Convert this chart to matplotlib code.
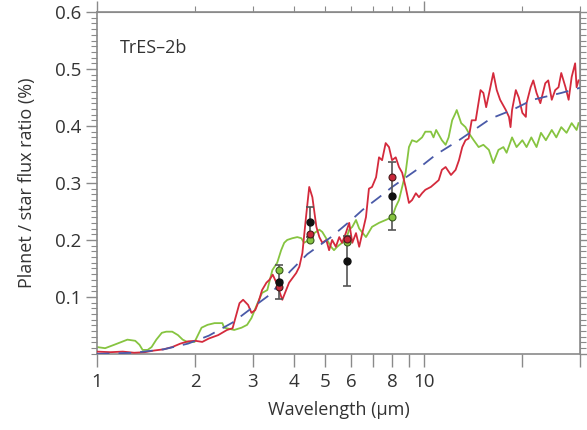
import matplotlib
matplotlib.use("Agg")
import matplotlib.pyplot as plt
from matplotlib.ticker import FixedLocator, NullFormatter, MultipleLocator
import numpy as np

plt.rcParams['font.family'] = ['Open Sans', 'DejaVu Sans']

# modele rouge
red_wl = [1.0, 1.1, 1.2, 1.3, 1.4, 1.5, 1.6, 1.7, 1.8, 1.9, 2.0, 2.1, 2.2, 2.35, 2.5, 2.6,
          2.73, 2.8, 2.9, 2.97, 3.05, 3.12, 3.2, 3.3, 3.37, 3.45, 3.54, 3.69, 3.87, 4.07,
          4.16, 4.25, 4.36, 4.46, 4.56, 4.69, 4.79, 4.89, 5.03, 5.13, 5.24, 5.38, 5.51,
          5.62, 5.77, 5.91, 6.04, 6.2, 6.34, 6.48, 6.65, 6.79, 6.94, 7.14, 7.29, 7.45,
          7.64, 7.82, 7.99, 8.2, 8.39, 8.58, 8.79, 9.0, 9.2, 9.45, 9.66, 9.87, 10.1, 10.5,
          10.85, 11.1, 11.35, 11.65, 12.1, 12.5, 12.8, 13.1, 13.4, 13.7, 14.0, 14.4, 14.9,
          15.2, 15.5, 15.9, 16.3, 16.7, 17.1, 17.8, 18.2, 18.4, 18.6, 19.1, 19.5, 20.0,
          20.5, 20.6, 21.2, 21.6, 22.1, 22.7, 23.5, 24.0, 24.6, 25.2, 25.8, 26.3, 27.1,
          27.7, 28.3, 29.0, 29.3, 29.7]
red_fx = [0.004, 0.003, 0.004, 0.002, 0.003, 0.006, 0.008, 0.012, 0.018, 0.022, 0.023,
          0.021, 0.027, 0.033, 0.042, 0.045, 0.089, 0.095, 0.086, 0.072, 0.077, 0.091,
          0.112, 0.125, 0.13, 0.139, 0.125, 0.095, 0.125, 0.142, 0.153, 0.177, 0.24,
          0.293, 0.275, 0.223, 0.205, 0.195, 0.2, 0.182, 0.2, 0.188, 0.205, 0.195, 0.212,
          0.23, 0.195, 0.212, 0.188, 0.212, 0.24, 0.29, 0.293, 0.31, 0.345, 0.34, 0.37,
          0.363, 0.34, 0.345, 0.328, 0.318, 0.293, 0.265, 0.27, 0.282, 0.275, 0.282,
          0.288, 0.293, 0.3, 0.305, 0.323, 0.328, 0.314, 0.323, 0.34, 0.363, 0.375, 0.378,
          0.41, 0.41, 0.463, 0.458, 0.433, 0.463, 0.493, 0.463, 0.446, 0.428, 0.416,
          0.398, 0.428, 0.463, 0.45, 0.423, 0.416, 0.44, 0.468, 0.48, 0.458, 0.44, 0.475,
          0.48, 0.446, 0.463, 0.468, 0.493, 0.468, 0.446, 0.486, 0.51, 0.468, 0.48]

# modele vert
green_wl = [1.0, 1.06, 1.13, 1.19, 1.24, 1.31, 1.35, 1.38, 1.43, 1.47, 1.52, 1.58, 1.63,
            1.70, 1.77, 1.83, 1.89, 1.99, 2.09, 2.18, 2.29, 2.42, 2.45, 2.63, 2.77, 2.88,
            2.97, 3.1, 3.2, 3.32, 3.44, 3.56, 3.66, 3.74, 3.82, 3.96, 4.1, 4.22, 4.3, 4.46,
            4.62, 4.79, 4.89, 5.06, 5.2, 5.31, 5.43, 5.62, 5.77, 5.91, 6.04, 6.2, 6.34,
            6.65, 6.94, 7.29, 7.64, 7.99, 8.2, 8.39, 8.58, 8.79, 9.0, 9.2, 9.5, 9.87, 10.1,
            10.5, 10.7, 10.9, 11.35, 11.65, 11.9, 12.2, 12.5, 12.6, 13.0, 13.4, 13.7, 14.2,
            14.7, 15.2, 15.8, 16.3, 16.9, 17.5, 17.9, 18.6, 19.2, 20.0, 20.6, 21.3, 22.1,
            22.8, 23.6, 24.6, 25.4, 26.3, 27.3, 28.3, 29.3, 29.7]
green_fx = [0.012, 0.01, 0.016, 0.021, 0.025, 0.023, 0.016, 0.007, 0.007, 0.012, 0.025,
            0.037, 0.039, 0.039, 0.033, 0.025, 0.021, 0.021, 0.046, 0.051, 0.054, 0.054,
            0.046, 0.042, 0.046, 0.051, 0.063, 0.089, 0.107, 0.112, 0.147, 0.16, 0.182,
            0.195, 0.2, 0.203, 0.205, 0.203, 0.195, 0.2, 0.212, 0.218, 0.214, 0.2, 0.188,
            0.182, 0.188, 0.195, 0.2, 0.218, 0.223, 0.235, 0.22, 0.205, 0.223, 0.23, 0.235,
            0.24, 0.258, 0.27, 0.293, 0.318, 0.363, 0.375, 0.372, 0.38, 0.39, 0.39, 0.38,
            0.393, 0.375, 0.367, 0.38, 0.41, 0.423, 0.428, 0.405, 0.398, 0.388, 0.375,
            0.363, 0.367, 0.358, 0.335, 0.358, 0.363, 0.353, 0.38, 0.363, 0.375, 0.363,
            0.38, 0.363, 0.388, 0.375, 0.393, 0.38, 0.398, 0.388, 0.405, 0.393, 0.405]

# corps noir (tirets bleus)
bb_wl = [1.0, 1.3, 1.6, 1.9, 2.2, 2.6, 3.0, 3.4, 3.9, 4.4, 5.2, 6.0, 6.5, 7.3, 8.0, 9.5,
         10.9, 12.8, 14.4, 16.0, 18.6, 21.5, 26.3, 30.0]
bb_fx = [0.0, 0.002, 0.008, 0.018, 0.032, 0.055, 0.082, 0.105, 0.145, 0.175, 0.205,
         0.235, 0.253, 0.275, 0.293, 0.323, 0.35, 0.375, 0.395, 0.413, 0.428, 0.446,
         0.458, 0.467]

# mesures Spitzer et modeles integres sur les bandes
band_wl = [3.6, 4.5, 5.8, 8.0]
obs_fx = [0.126, 0.232, 0.163, 0.277]
obs_err = [0.03, 0.026, 0.044, 0.06]
red_band = [0.117, 0.21, 0.202, 0.311]
green_band = [0.148, 0.2, 0.197, 0.24]

fig = plt.figure(figsize=(5.87, 4.30), dpi=100)
ax = fig.add_axes([0.165, 0.177, 0.823, 0.795])

ax.plot(green_wl, green_fx, color='#86c440', lw=1.3, zorder=2)
ax.plot(red_wl, red_fx, color='#d42a3c', lw=1.3, zorder=3)
ax.plot(bb_wl, bb_fx, color='#4a5aa8', lw=1.3, dashes=(7, 5), zorder=4)

ax.errorbar(band_wl, obs_fx, yerr=obs_err, fmt='none', ecolor='#555555',
            elinewidth=1.2, capsize=3, capthick=1.2, zorder=5)
ax.plot(band_wl, green_band, 'o', ms=5, mfc='#86c440', mec='#3a5a20', mew=0.8, zorder=6)
ax.plot(band_wl, red_band, 'o', ms=5, mfc='#c8283a', mec='#4a1a1a', mew=0.8, zorder=6)
ax.plot(band_wl, obs_fx, 'o', ms=5, mfc='#111111', mec='#111111', zorder=7)

ax.set_xscale('log')
ax.set_xlim(1, 30)
ax.set_ylim(0, 0.6)

xt = [1, 2, 3, 4, 5, 6, 7, 8, 9, 10, 20, 30]
xl = ['1', '2', '3', '4', '5', '6', '', '8', '', '10', '', '']
ax.xaxis.set_major_locator(FixedLocator(xt))
ax.set_xticklabels(xl)
ax.xaxis.set_minor_locator(FixedLocator([]))
ax.xaxis.set_minor_formatter(NullFormatter())

ax.set_yticks([0.1, 0.2, 0.3, 0.4, 0.5, 0.6])
ax.set_yticklabels(['0.1', '0.2', '0.3', '0.4', '0.5', '0.6'])
ax.yaxis.set_minor_locator(MultipleLocator(0.01))

gris = '#8a8a8a'
ax.tick_params(axis='x', which='major', direction='out', length=9, width=1,
               color=gris, labelsize=13.5, labelcolor='#333333', pad=5)
ax.tick_params(axis='y', which='major', direction='out', length=8, width=1,
               color=gris, labelsize=13.5, labelcolor='#333333', pad=3)
ax.tick_params(axis='y', which='minor', direction='out', length=4, width=0.8, color=gris)

top = ax.secondary_xaxis('top')
top.xaxis.set_major_locator(FixedLocator([1, 10]))
top.xaxis.set_minor_locator(FixedLocator([2, 3, 4, 5, 6, 7, 8, 9, 20, 30]))
top.xaxis.set_major_formatter(NullFormatter())
top.xaxis.set_minor_formatter(NullFormatter())
top.tick_params(which='major', direction='out', length=8, width=1, color=gris)
top.tick_params(which='minor', direction='out', length=4, width=0.8, color=gris)
top.spines['top'].set_color(gris)

right = ax.secondary_yaxis('right')
right.yaxis.set_major_locator(MultipleLocator(0.1))
right.yaxis.set_minor_locator(MultipleLocator(0.01))
right.yaxis.set_major_formatter(NullFormatter())
right.tick_params(which='major', direction='out', length=6, width=1, color=gris)
right.tick_params(which='minor', direction='out', length=4, width=0.8, color=gris)
right.spines['right'].set_color(gris)

for s in ax.spines.values():
    s.set_color(gris)
    s.set_linewidth(1.2)

ax.set_xlabel('Wavelength (µm)', fontsize=13, color='#333333', labelpad=7)
ax.set_ylabel('Planet / star flux ratio (%)', fontsize=13, color='#333333', labelpad=14)
ax.text(0.048, 0.895, 'TrES–2b', transform=ax.transAxes, fontsize=13,
        color='#333333', va='center', ha='left')

fig.savefig('out.png', dpi=100)
